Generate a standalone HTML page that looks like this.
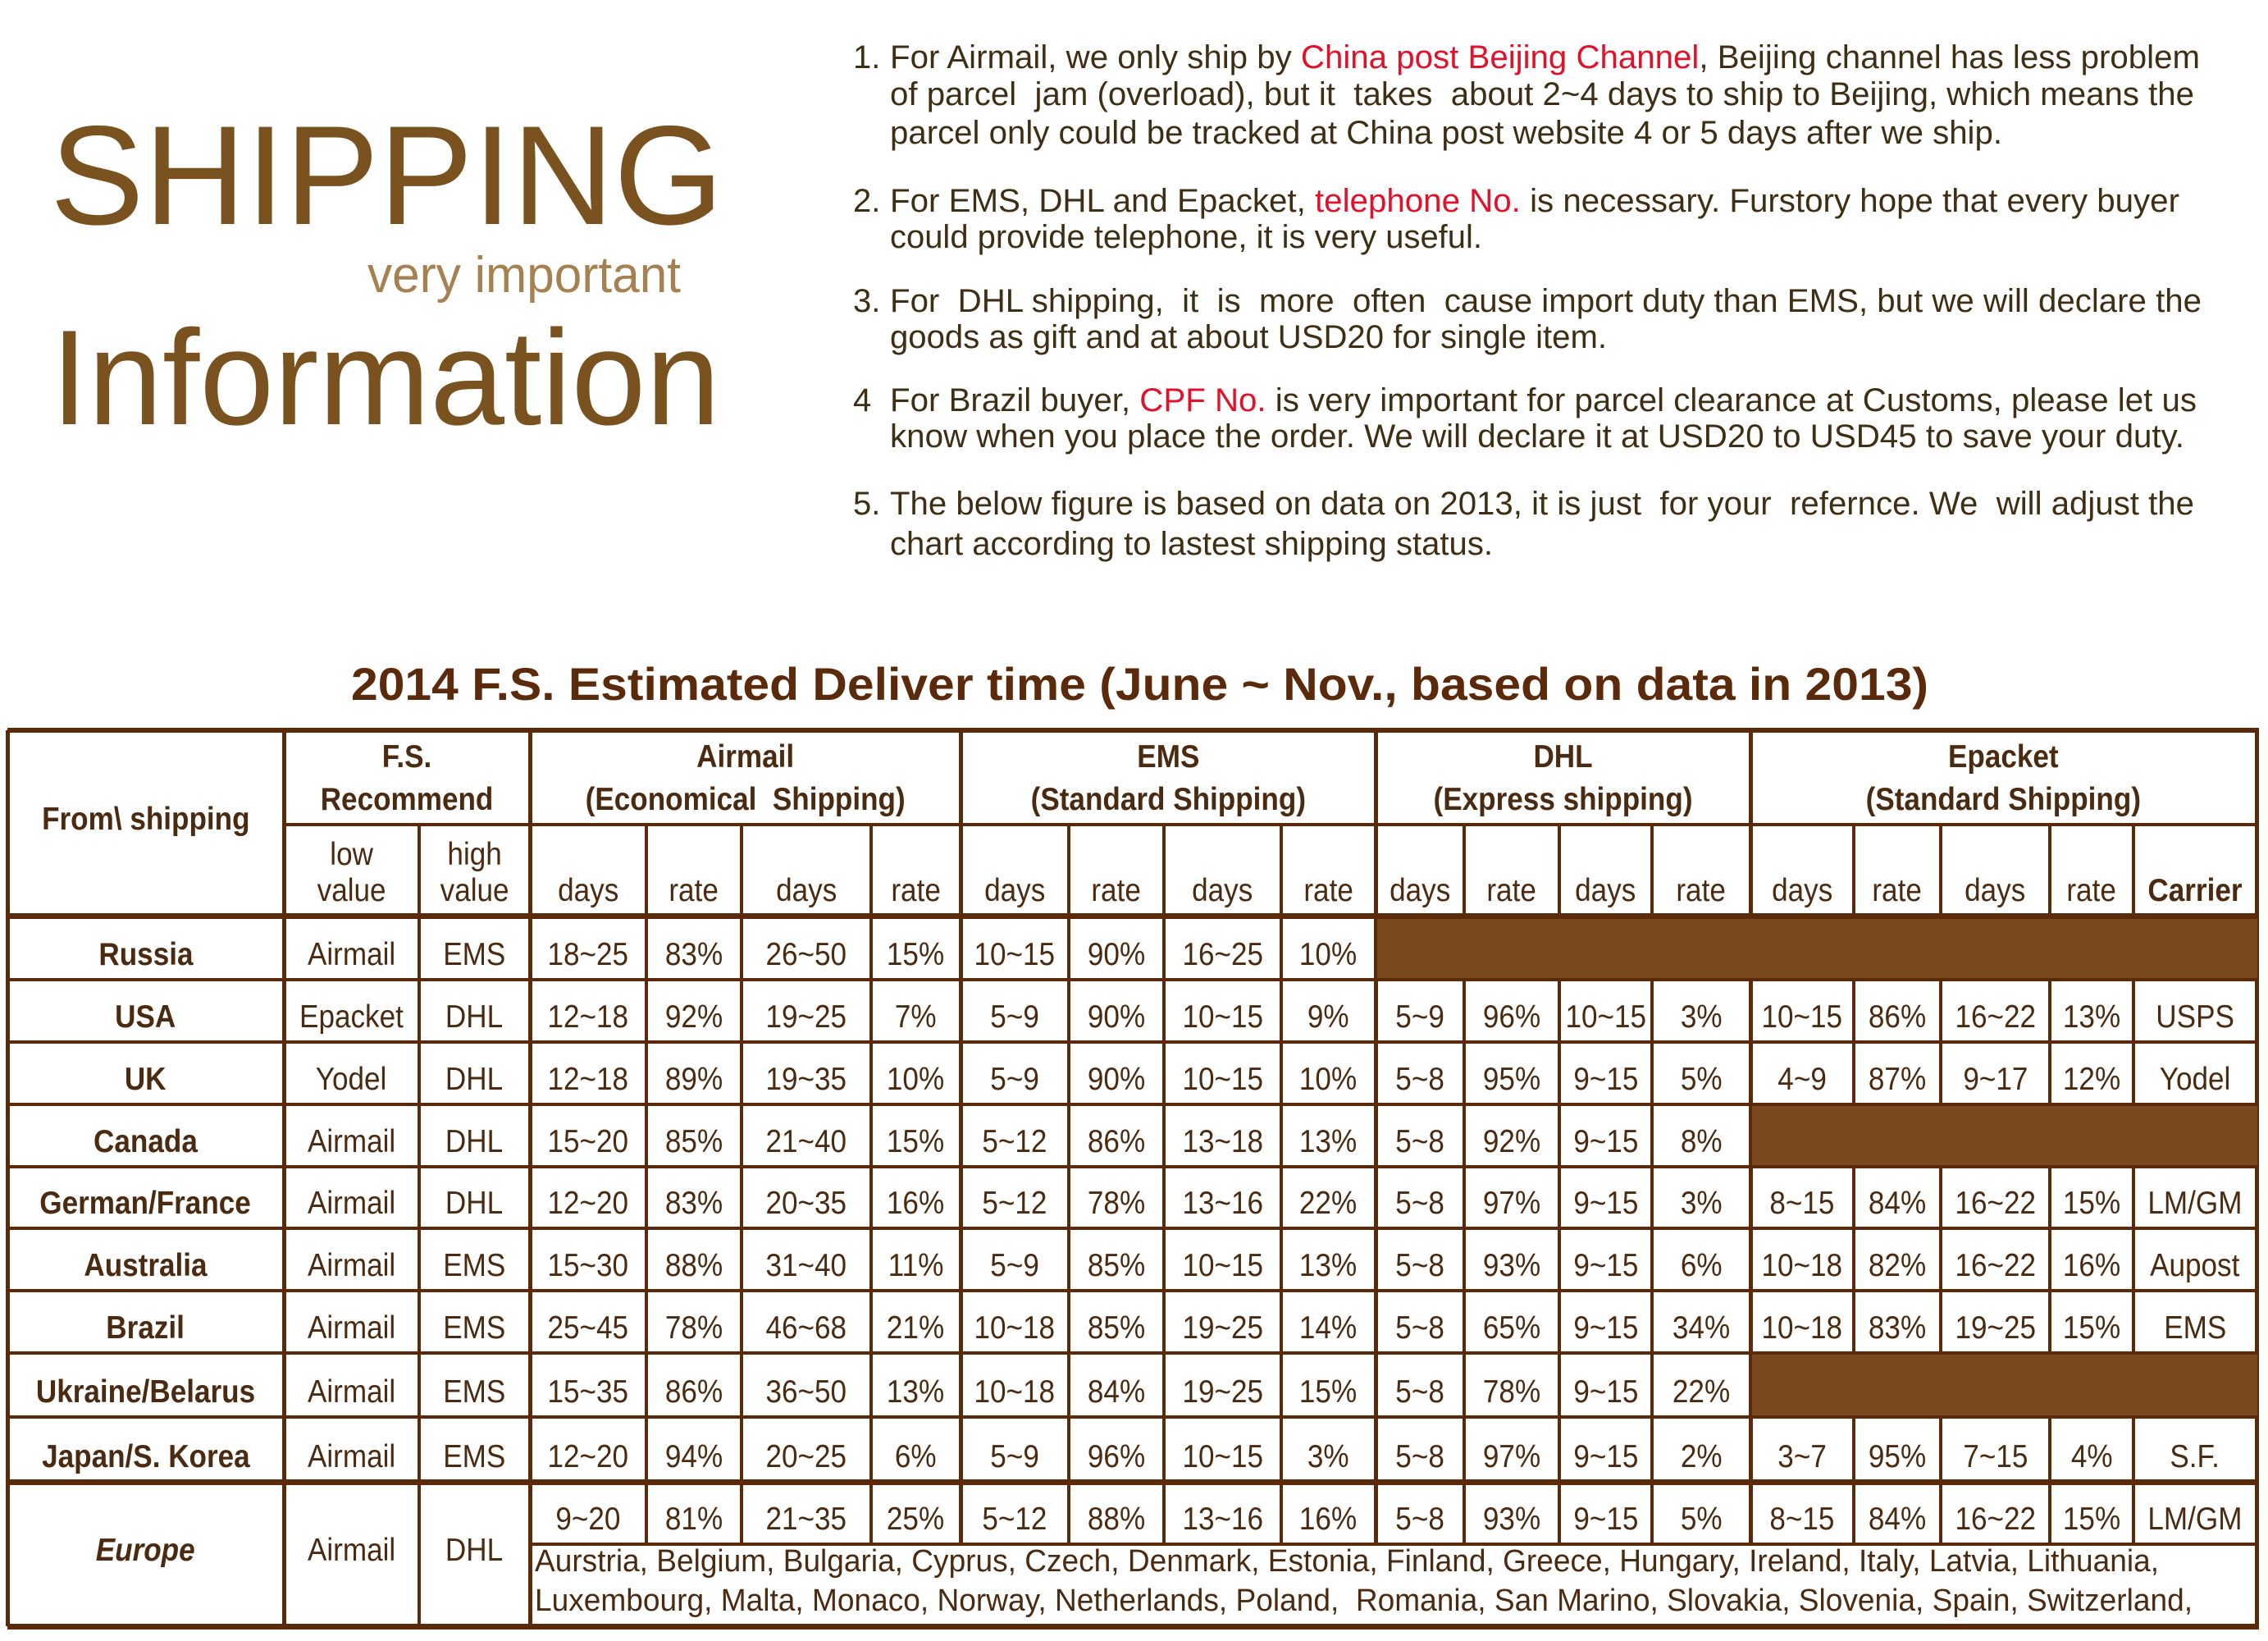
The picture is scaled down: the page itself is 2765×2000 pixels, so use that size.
<!DOCTYPE html>
<html><head><meta charset="utf-8">
<style>
html,body{margin:0;padding:0;background:#fff;}
#root{position:relative;width:2765px;height:2000px;overflow:hidden;background:#fff;font-family:"Liberation Sans",sans-serif;}
.fit{position:absolute;white-space:nowrap;transform-origin:0 0;line-height:1;}
.hl{position:absolute;background:#5a2a0a;}
.cell{position:absolute;display:flex;align-items:flex-end;justify-content:center;color:#4a2a10;font-size:39px;white-space:nowrap;overflow:visible;}
.cell span{display:inline-block;transform:scaleX(0.9);padding-bottom:8px;}
.red{color:#e3102a;}
</style></head>
<body>
<div id="root">
<div class="fit" id="t-ship" style="left:61px;top:128px;font-size:172px;color:#7a5220;" data-w="821">SHIPPING</div>
<div class="fit" id="t-vi" style="left:448px;top:305px;font-size:62px;color:#a58050;" data-w="382">very important</div>
<div class="fit" id="t-info" style="left:62px;top:378px;font-size:165px;color:#7a5220;" data-w="816">Information</div>

<div id="notes"></div>

<div class="fit" id="t-table" style="left:428px;top:806px;font-size:56px;font-weight:bold;color:#5a2a0a;" data-w="1923">2014 F.S. Estimated Deliver time (June ~ Nov., based on data in 2013)</div>

<div id="table"></div>
</div>
<script>
const noteNums=["1.","","","2.","","3.","","4","","5.",""];
const noteLines=[
 'For Airmail, we only ship by <span class="red">China post Beijing Channel</span>, Beijing channel has less problem',
 'of parcel&nbsp; jam (overload), but it&nbsp; takes&nbsp; about 2~4 days to ship to Beijing, which means the',
 'parcel only could be tracked at China post website 4 or 5 days after we ship.',
 'For EMS, DHL and Epacket, <span class="red">telephone No.</span> is necessary. Furstory hope that every buyer',
 'could provide telephone, it is very useful.',
 'For&nbsp; DHL shipping,&nbsp; it&nbsp; is&nbsp; more&nbsp; often&nbsp; cause import duty than EMS, but we will declare the',
 'goods as gift and at about USD20 for single item.',
 'For Brazil buyer, <span class="red">CPF No.</span> is very important for parcel clearance at Customs, please let us',
 'know when you place the order. We will declare it at USD20 to USD45 to save your duty.',
 'The below figure is based on data on 2013, it is just&nbsp; for your&nbsp; refernce. We&nbsp; will adjust the',
 'chart according to lastest shipping status.'];
const noteY=[70,115,162,245,289,367,411,488,532,614,663];
const noteEnd=[2682,2675,2441,2657,1807,2684,1959,2678,2663,2675,1820];

const colX=[9,346,511,646,788,904,1062,1171,1303,1419,1562,1677,1785,1901,2014,2134,2260,2366,2499,2601,2751];
const rowY=[1116,1194,1270,1346,1422,1497,1573,1649,1727,1806,1982];
const countries=["Russia","USA","UK","Canada","German/France","Australia","Brazil","Ukraine/Belarus","Japan/S. Korea"];
const rowVals=[
 ["Airmail","EMS","18~25","83%","26~50","15%","10~15","90%","16~25","10%"],
 ["Epacket","DHL","12~18","92%","19~25","7%","5~9","90%","10~15","9%","5~9","96%","10~15","3%","10~15","86%","16~22","13%","USPS"],
 ["Yodel","DHL","12~18","89%","19~35","10%","5~9","90%","10~15","10%","5~8","95%","9~15","5%","4~9","87%","9~17","12%","Yodel"],
 ["Airmail","DHL","15~20","85%","21~40","15%","5~12","86%","13~18","13%","5~8","92%","9~15","8%"],
 ["Airmail","DHL","12~20","83%","20~35","16%","5~12","78%","13~16","22%","5~8","97%","9~15","3%","8~15","84%","16~22","15%","LM/GM"],
 ["Airmail","EMS","15~30","88%","31~40","11%","5~9","85%","10~15","13%","5~8","93%","9~15","6%","10~18","82%","16~22","16%","Aupost"],
 ["Airmail","EMS","25~45","78%","46~68","21%","10~18","85%","19~25","14%","5~8","65%","9~15","34%","10~18","83%","19~25","15%","EMS"],
 ["Airmail","EMS","15~35","86%","36~50","13%","10~18","84%","19~25","15%","5~8","78%","9~15","22%"],
 ["Airmail","EMS","12~20","94%","20~25","6%","5~9","96%","10~15","3%","5~8","97%","9~15","2%","3~7","95%","7~15","4%","S.F."]];
const europeVals=["9~20","81%","21~35","25%","5~12","88%","13~16","16%","5~8","93%","9~15","5%","8~15","84%","16~22","15%","LM/GM"];
const europeList1="Aurstria, Belgium, Bulgaria, Cyprus, Czech, Denmark, Estonia, Finland, Greece, Hungary, Ireland, Italy, Latvia, Lithuania,";
const europeList2="Luxembourg, Malta, Monaco, Norway, Netherlands, Poland,&nbsp; Romania, San Marino, Slovakia, Slovenia, Spain, Switzerland,";
const groupNames=[["F.S.","Recommend"],["Airmail","(Economical&nbsp; Shipping)"],["EMS","(Standard Shipping)"],["DHL","(Express shipping)"],["Epacket","(Standard Shipping)"]];
const subHeads=["low<br>value","high<br>value","days","rate","days","rate","days","rate","days","rate","days","rate","days","rate","days","rate","days","rate","Carrier"];

const root=document.getElementById('root');
function fitAll(){
 document.querySelectorAll('.fit[data-w]').forEach(el=>{
  const w=el.getBoundingClientRect().width; const t=+el.getAttribute('data-w');
  if(w>0) el.style.transform='scaleX('+(t/w)+')';
 });
}
const notes=document.getElementById('notes');
noteLines.forEach((ln,i)=>{
 if(noteNums[i]){
  const n=document.createElement('div');
  
  
  n.className='fit';n.style.cssText='left:1040px;top:'+(noteY[i]-20)+'px;font-size:40px;color:#3e2e14;';
  n.textContent=noteNums[i];notes.appendChild(n);
 }
 const d=document.createElement('div');
 
 
 d.className='fit';d.style.cssText='left:1085px;top:'+(noteY[i]-20)+'px;font-size:40px;color:#3e2e14;';
 d.setAttribute('data-w',noteEnd[i]-1085);
 d.innerHTML=ln;notes.appendChild(d);
});
const tb=document.getElementById('table');
function line(x,y,w,h,name){
 const l=document.createElement('div');
 
 
 l.className='hl';l.style.cssText='left:'+x+'px;top:'+y+'px;width:'+w+'px;height:'+h+'px;';
 tb.appendChild(l);
}
function fill(x1,y1,x2,y2){
 const f=document.createElement('div');
 
 
 f.style.cssText='position:absolute;background:#7a4a1e;left:'+x1+'px;top:'+y1+'px;width:'+(x2-x1)+'px;height:'+(y2-y1)+'px;';
 tb.appendChild(f);
}
function cell(x1,y1,x2,y2,html,name,extra,align){
 const c=document.createElement('div');
 
 
 c.className='cell';
 c.style.cssText='left:'+x1+'px;top:'+y1+'px;width:'+(x2-x1)+'px;height:'+(y2-y1)+'px;'+(extra||'');
 if(align) c.style.alignItems=align;
 c.innerHTML='<span>'+html+'</span>';tb.appendChild(c);
 return c;
}
const top0=890, sub=1005, last=rowY[rowY.length-1], eSub=1882;
const groupEdges=[1,3,7,11,15,20];
cell(colX[0],top0,colX[1],rowY[0],'From\\ shipping','header-from-shipping','font-weight:bold;color:#4a2a10;','center');
groupNames.forEach((g,i)=>{
 cell(colX[groupEdges[i]],top0,colX[groupEdges[i+1]],sub+4,g[0]+'<br>'+g[1],'header-group-'+g[0].toLowerCase().replace(/[^a-z]/g,''),'font-weight:bold;line-height:52px;text-align:center;','flex-end');
});
subHeads.forEach((s,i)=>{
 cell(colX[i+1],sub,colX[i+2],rowY[0],s,'subheader-'+s.replace(/<br>/,'-').toLowerCase(),(s==='Carrier'?'font-weight:bold;':'')+'line-height:44px;text-align:center;');
});
countries.forEach((cn,r)=>{
 const y1=rowY[r],y2=rowY[r+1];
 cell(colX[0],y1,colX[1],y2,cn,'row-label-'+cn.toLowerCase().replace(/[^a-z]+/g,'-'),'font-weight:bold;');
 rowVals[r].forEach((v,i)=>cell(colX[i+1],y1,colX[i+2],y2,v,'cell-value'));
});
const ey=rowY[rowY.length-2];
cell(colX[0],ey,colX[1],last,'Europe','row-label-europe','font-weight:bold;font-style:italic;','center');
cell(colX[1],ey,colX[2],last,'Airmail','cell-value','', 'center');
cell(colX[2],ey,colX[3],last,'DHL','cell-value','', 'center');
europeVals.forEach((v,i)=>cell(colX[i+3],ey,colX[i+4],eSub,v,'cell-value'));
[[europeList1,1884,2632],[europeList2,1932,2673]].forEach(a=>{
 const d=document.createElement('div');
 
 
 d.className='fit';d.style.cssText='left:652px;top:'+a[1]+'px;font-size:38px;color:#4a2a10;';
 d.setAttribute('data-w',a[2]-652);d.innerHTML=a[0];tb.appendChild(d);
});
line(colX[0],top0-3,colX[20]-colX[0]+3,6,'table-top-border');
line(colX[1],sub-2,colX[20]-colX[1],4);
line(colX[0],rowY[0]-3,colX[20]-colX[0]+3,7,'header-bottom-border');
for(let r=1;r<rowY.length-1;r++){const th=(r===rowY.length-2)?7:4;line(colX[0],rowY[r]-th/2,colX[20]-colX[0]+3,th);}
line(colX[3],eSub-2,colX[20]-colX[3],4);
line(colX[0],last-3,colX[20]-colX[0]+3,7,'table-bottom-border');
colX.forEach((x,i)=>{
 const grp=groupEdges.indexOf(i)>=0||i===0||i===20;
 const ys=(grp)?top0:sub;
 const ye=(i<=3||i===20)?last:eSub;
 const w=(grp)?5:4;
 line(x-w/2,ys,w,ye-ys,'column-line');
});
fill(colX[11]+2,rowY[0]+4,colX[20]+1,rowY[1]-2);
fill(colX[15]+2,rowY[3]+2,colX[20]+1,rowY[4]-2);
fill(colX[15]+2,rowY[7]+2,colX[20]+1,rowY[8]-2);
fitAll();
</script>
</body></html>
